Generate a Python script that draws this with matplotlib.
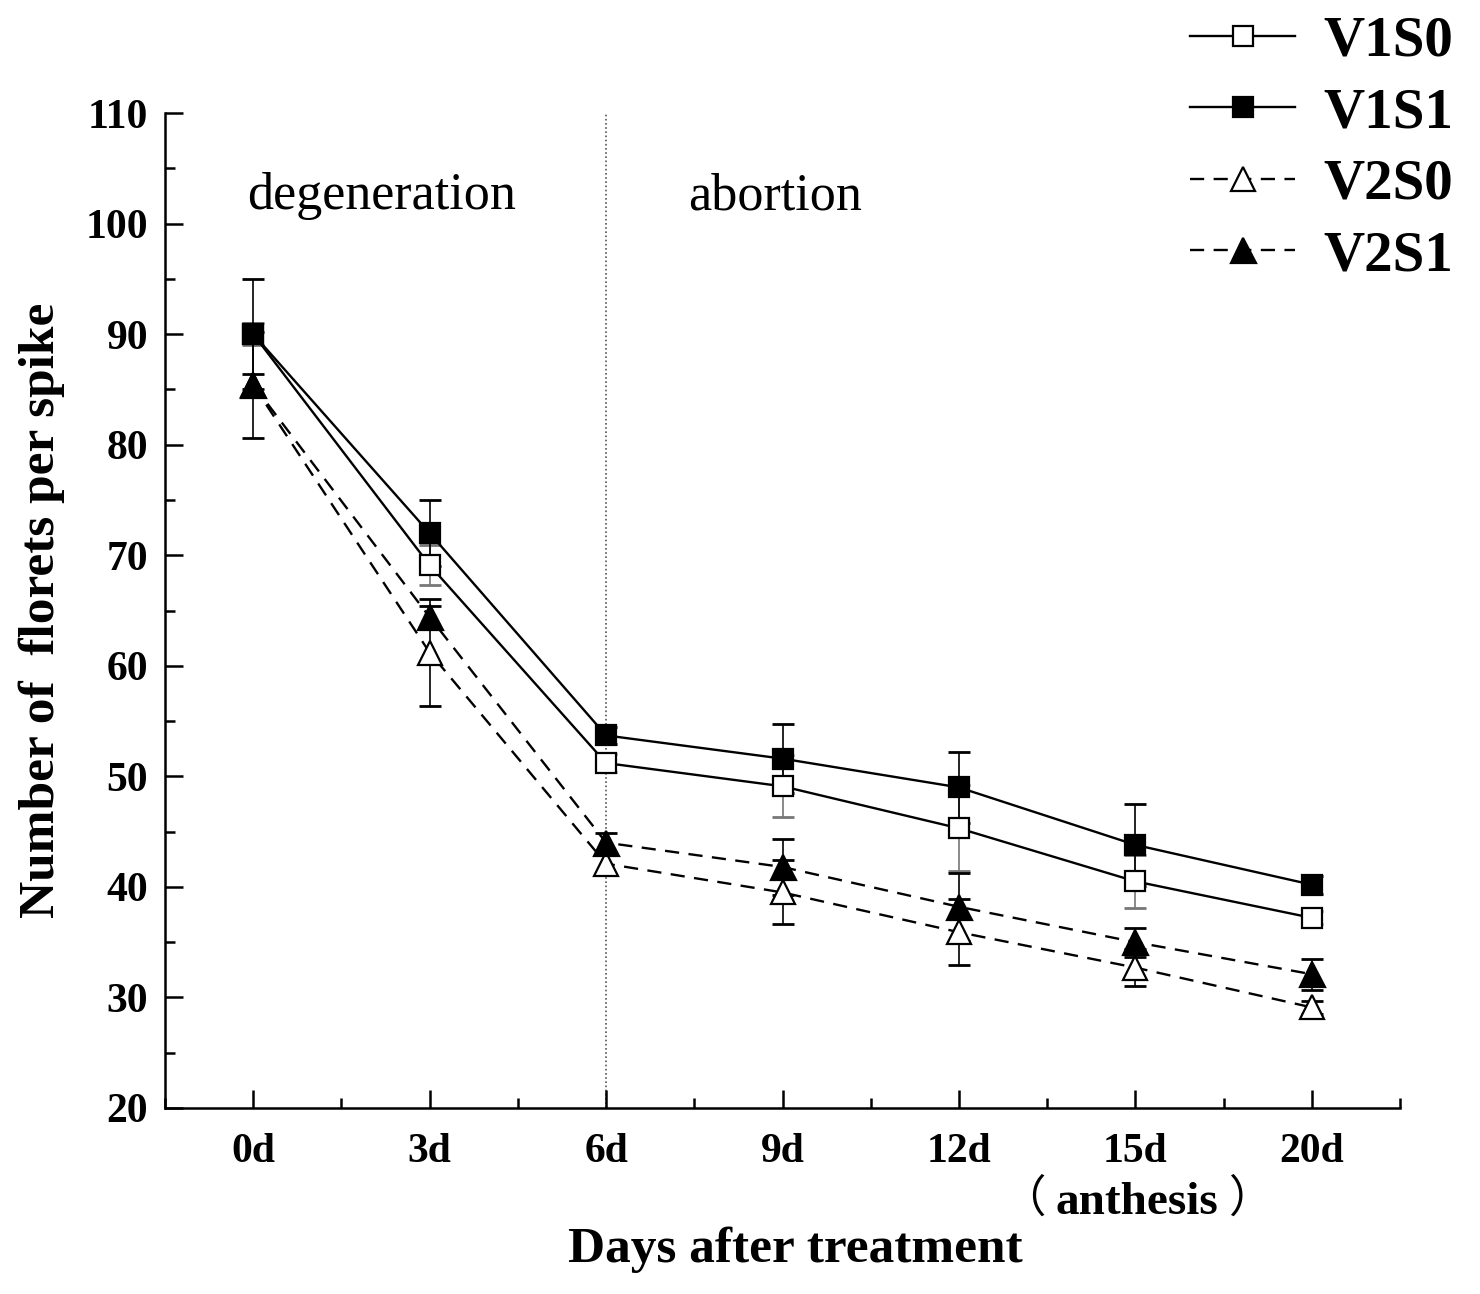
import matplotlib
matplotlib.use("Agg")
import matplotlib.pyplot as plt
from matplotlib.ticker import MultipleLocator, FixedLocator

plt.rcParams['font.family'] = ['Liberation Serif', 'Noto Sans CJK SC', 'DejaVu Sans']

days = ["0d", "3d", "6d", "9d", "12d", "15d", "20d"]
v1s0 = [90.0, 69.1, 51.2, 49.1, 45.3, 40.5, 37.2]
v1s1 = [90.0, 72.0, 53.7, 51.6, 49.0, 43.8, 40.2]
v2s0 = [85.4, 61.2, 42.1, 39.5, 35.9, 32.7, 29.1]
v2s1 = [85.4, 64.4, 44.0, 41.8, 38.2, 35.0, 32.1]
v1s0_err = [1.0, 1.8, 0.8, 2.8, 3.9, 2.4, 0.6]
v1s1_err = [5.0, 3.0, 0.8, 3.1, 3.2, 3.7, 0.8]
v2s0_err = [1.0, 4.8, 0.9, 2.9, 3.0, 1.7, 0.6]
v2s1_err = [4.8, 1.0, 0.9, 2.5, 3.1, 1.3, 1.4]
labels = ["V1S0", "V1S1", "V2S0", "V2S1"]

fig = plt.figure(figsize=(14.8, 12.94), dpi=100)
ax = fig.add_axes([165/1480, 1-1108/1294, (1400-165)/1480, (1108-113)/1294])

x = list(range(len(days)))

series = [
    (v1s0, v1s0_err, dict(marker='s', ls='-', mfc='white', ms=14), '#777777'),
    (v2s0, v2s0_err, dict(marker='^', ls=(0, (6, 4)), mfc='white', ms=17), 'black'),
    (v1s1, v1s1_err, dict(marker='s', ls='-', mfc='black', ms=15), 'black'),
    (v2s1, v2s1_err, dict(marker='^', ls=(0, (6, 4)), mfc='black', ms=18), 'black'),
]
names = [labels[0], labels[2], labels[1], labels[3]]
handles = {}
for (vals, err, st, ecol), name in zip(series, names):
    ax.errorbar(x, vals, yerr=err, fmt='none', ecolor=ecol, elinewidth=1.2,
                capsize=8, capthick=2, zorder=2)
for (vals, err, st, ecol), name in zip(series, names):
    ln, = ax.plot(x, vals, color='black', lw=1.7, mec='black', mew=1.6,
                  label=name, zorder=3, **st)
    handles[name] = ln

ax.axvline(2, color='#555555', lw=1.2, ls=(0, (1, 1.5)), zorder=1)

ax.set_xlim(-0.5, 6.5)
ax.set_ylim(20, 110)
ax.set_xticks(x)
ax.set_xticklabels(days)
ax.xaxis.set_minor_locator(FixedLocator([i + 0.5 for i in range(-1, 7)]))
ax.yaxis.set_major_locator(MultipleLocator(10))
ax.yaxis.set_minor_locator(MultipleLocator(5))
for sp in ['top', 'right']:
    ax.spines[sp].set_visible(False)
for sp in ['left', 'bottom']:
    ax.spines[sp].set_linewidth(1.8)
ax.tick_params(which='major', direction='in', length=13, width=1.8,
               labelsize=30)
ax.tick_params(which='minor', direction='in', length=7, width=1.8)
ax.tick_params(axis='x', which='major', pad=18)
ax.tick_params(axis='y', which='major', pad=12)
for lab in ax.get_xticklabels() + ax.get_yticklabels():
    lab.set_fontweight('bold')

ax.text(0.725, 101.3, "degeneration", fontsize=37.5, ha='center', va='baseline')
ax.text(2.96, 101.3, "abortion", fontsize=37.5, ha='center', va='baseline')

yb = 1 - 1214/1294
fig.text(1137/1480, yb, "anthesis", fontsize=34, fontweight='bold',
         ha='center', va='baseline')
fig.text(1046/1480, yb + 2/1294, "（", fontsize=32, family='Noto Sans CJK SC',
         ha='right', va='baseline')
fig.text(1228/1480, yb + 2/1294, "）", fontsize=32, family='Noto Sans CJK SC',
         ha='left', va='baseline')

fig.text(795/1480, 1-1250/1294, "Days after treatment", fontsize=37,
         fontweight='bold', ha='center', va='center')
fig.text(42/1480, 1-610/1294, "Number of  florets per spike", fontsize=37,
         fontweight='bold', ha='center', va='center', rotation=90)

fig.legend([handles[n] for n in labels], labels, loc='upper left',
           bbox_to_anchor=(1190/1480, 1-16/1294), frameon=False,
           prop=dict(size=41, weight='bold'), borderpad=0,
           handlelength=1.85, handletextpad=0.5, labelspacing=0.34,
           borderaxespad=0)

fig.savefig("out.png", dpi=100, facecolor='white')
